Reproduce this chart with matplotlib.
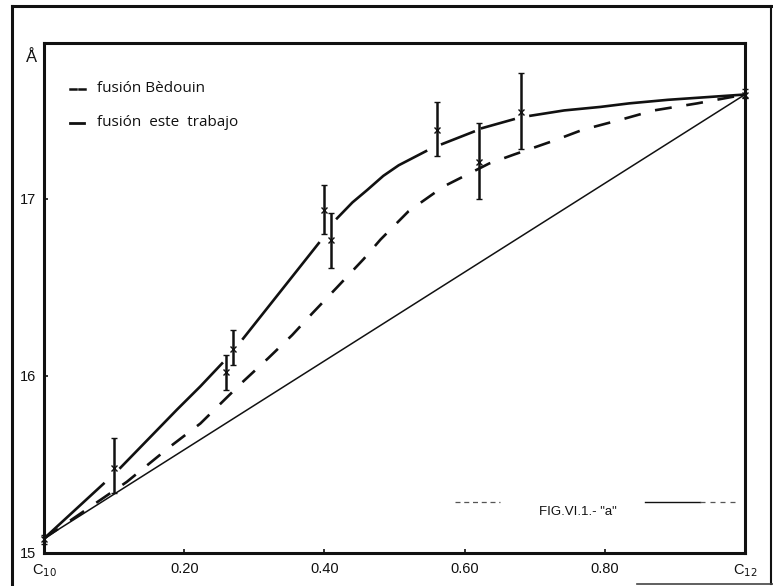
import numpy as np
import matplotlib
matplotlib.use("Agg")
import matplotlib.pyplot as plt
from matplotlib.lines import Line2D

# ---- data ----
x_ticks = [0.0, 0.2, 0.4, 0.6, 0.8, 1.0]
x_ticklabels = [r"C$_{10}$", "0.20", "0.40", "0.60", "0.80", r"C$_{12}$"]
y_ticks = [15, 16, 17]
y_ticklabels = ["15", "16", "17"]

# measured points (este trabajo) with asymmetric error bars
pt_x = [0.0, 0.10, 0.26, 0.27, 0.40, 0.41, 0.56, 0.62, 0.68, 1.0]
pt_y = [15.08, 15.48, 16.02, 16.15, 16.94, 16.77, 17.39, 17.21, 17.49, 17.59]
pt_top = [15.10, 15.65, 16.12, 16.26, 17.08, 16.92, 17.55, 17.43, 17.71, 17.62]
pt_bot = [15.05, 15.34, 15.92, 16.06, 16.80, 16.61, 17.24, 17.00, 17.28, 17.57]

# fusión Bèdouin (dashed)
bed_x = [0.0, 0.118, 0.18, 0.223, 0.282, 0.320, 0.354, 0.382, 0.418, 0.456,
         0.48, 0.52, 0.570, 0.635, 0.670, 0.728, 0.768, 0.825, 0.870, 0.932, 1.0]
bed_y = [15.08, 15.40, 15.60, 15.73, 15.96, 16.10, 16.23, 16.35, 16.50, 16.66,
         16.77, 16.93, 17.07, 17.20, 17.25, 17.33, 17.39, 17.45, 17.50, 17.54, 17.59]

# fusión este trabajo (solid, broken at the error bars)
tra_x = [0.0, 0.085, np.nan, 0.109, 0.19, 0.223, 0.254, np.nan, 0.284, 0.342, 0.392,
         np.nan, 0.418, 0.44, 0.461, 0.484, 0.506, 0.545, np.nan, 0.568, 0.613, np.nan,
         0.625, 0.670, np.nan, 0.694, 0.742, 0.794, 0.835, 0.89, 1.0]
tra_y = [15.08, 15.39, np.nan, 15.48, 15.81, 15.94, 16.07, np.nan, 16.21, 16.50, 16.75,
         np.nan, 16.89, 16.98, 17.05, 17.13, 17.19, 17.27, np.nan, 17.31, 17.38, np.nan,
         17.40, 17.45, np.nan, 17.47, 17.50, 17.52, 17.54, 17.56, 17.59]

# ideal straight line
lin_x = [0.0, 1.0]
lin_y = [15.08, 17.59]

W, H = 773, 586
fig = plt.figure(figsize=(W / 100, H / 100), dpi=100)
fig.patch.set_facecolor("white")
ax = fig.add_axes([44 / W, 1 - 552.7 / H, (745 - 44) / W, (552.7 - 42.5) / H])
ax.set_xlim(0.0, 1.0)
ax.set_ylim(15.0, 17.884)

ink = "#111111"
ax.plot(lin_x, lin_y, color=ink, lw=1.1)
ax.plot(bed_x, bed_y, color=ink, lw=1.9, linestyle=(0, (6.4, 5.6)), dash_capstyle="butt")
ax.plot(tra_x, tra_y, color=ink, lw=1.9)

yerr = [np.array(pt_y) - np.array(pt_bot), np.array(pt_top) - np.array(pt_y)]
ax.errorbar(pt_x, pt_y, yerr=yerr, fmt="x", color=ink, ms=4, mew=1.0,
            elinewidth=1.8, capsize=2.2, capthick=1.4, clip_on=False)

for s in ax.spines.values():
    s.set_linewidth(2.2)
    s.set_color(ink)

ax.set_xticks(x_ticks)
ax.set_xticklabels(x_ticklabels, fontsize=10.5, family="Liberation Sans")
ax.set_yticks(y_ticks)
ax.set_yticklabels(y_ticklabels, fontsize=10.5, family="Liberation Sans")
ax.tick_params(direction="in", length=3, width=1.2, pad=6, colors=ink)
ax.tick_params(axis="x", pad=7)

# unit label
fig.text(31 / W, 1 - 57 / H, "Å", ha="center", va="center", fontsize=12,
         family="Liberation Sans", color=ink)

# legend (hand lettered)
fs = 11
ax.add_line(Line2D([70 / W, 76 / W], [1 - 89 / H] * 2, transform=fig.transFigure, color=ink, lw=1.8))
ax.add_line(Line2D([79 / W, 85 / W], [1 - 89 / H] * 2, transform=fig.transFigure, color=ink, lw=1.8))
fig.text(97 / W, 1 - 89 / H, "fusión Bèdouin", ha="left", va="center", fontsize=fs,
         family="Open Sans", color=ink)
ax.add_line(Line2D([70 / W, 84 / W], [1 - 123 / H] * 2, transform=fig.transFigure, color=ink, lw=2.0))
fig.text(97 / W, 1 - 123 / H, "fusión  este  trabajo", ha="left", va="center", fontsize=fs,
         family="Open Sans", color=ink)

# figure caption inside the plot
fig.text(578 / W, 1 - 512 / H, 'FIG.VI.1.- "a"', ha="center", va="center", fontsize=9.5,
         family="Liberation Sans", color=ink)
fig.add_artist(Line2D([455 / W, 500 / W], [1 - 502 / H] * 2, color="#555555", lw=0.9,
                      linestyle=(0, (4, 3))))
fig.add_artist(Line2D([645 / W, 700 / W], [1 - 502 / H] * 2, color=ink, lw=1.0))
fig.add_artist(Line2D([700 / W, 740 / W], [1 - 502 / H] * 2, color="#555555", lw=0.9,
                      linestyle=(0, (4, 4))))

# outer frame of the scanned page
fig.add_artist(Line2D([12 / W, 12 / W], [0, 1 - 6 / H], color=ink, lw=2.2))
fig.add_artist(Line2D([12 / W, 771 / W], [1 - 6 / H] * 2, color=ink, lw=2.2))
fig.add_artist(Line2D([771 / W, 771 / W], [1 - 6 / H, 1 - 584 / H], color=ink, lw=1.5))
fig.add_artist(Line2D([637 / W, 773 / W], [1 - 584 / H] * 2, color="#444444", lw=1.2))

fig.savefig("out.png", dpi=100, facecolor="white")
